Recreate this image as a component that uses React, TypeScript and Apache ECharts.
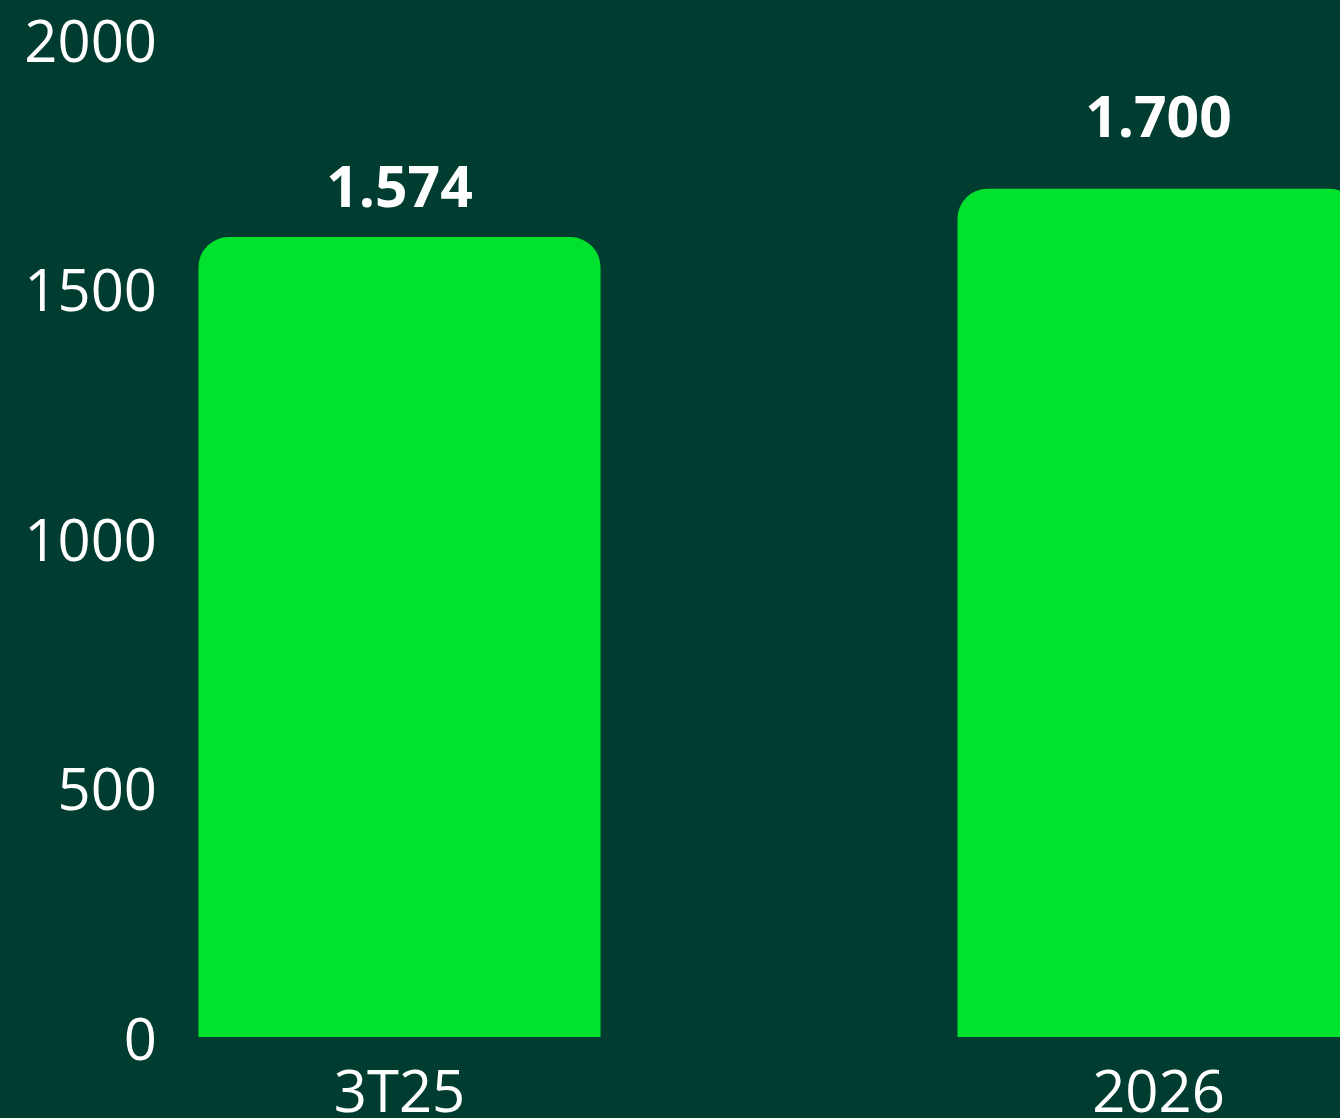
import React, { useEffect, useRef } from "react";
import * as echarts from "echarts";

const categories = ["3T25", "2026"];
const barValues = [1603, 1700];
const valueLabels = ["1.574", "1.700"];
const yMin = 0;
const yMax = 2000;
const yInterval = 500;

const BG = "#003C2F";
const BAR = "#00E22D";
const FONT = "'Open Sans', 'Noto Sans', sans-serif";
const labelDistances = [24, 45];

export default function App() {
  const ref = useRef<HTMLDivElement>(null);
  useEffect(() => {
    document.body.style.margin = "0";
    document.body.style.overflow = "hidden";
    const chart = echarts.init(ref.current!, undefined, { renderer: "svg" });
    chart.setOption({
      animation: false,
      backgroundColor: BG,
      grid: { left: 20, right: 2, top: 39, bottom: 80, containLabel: false },
      xAxis: {
        type: "category",
        data: categories,
        axisLine: { show: false },
        axisTick: { show: false },
        axisLabel: {
          color: "#ffffff",
          fontFamily: FONT,
          fontSize: 58,
          margin: 23,
        },
      },
      yAxis: {
        type: "value",
        min: yMin,
        max: yMax,
        interval: yInterval,
        axisLine: { show: false },
        axisTick: { show: false },
        splitLine: { show: false },
        axisLabel: {
          color: "#ffffff",
          fontFamily: FONT,
          fontSize: 58,
          align: "right",
          margin: -137,
          formatter: (v: number) => String(v),
        },
      },
      series: [
        {
          type: "bar",
          barWidth: 402,
          data: barValues.map((v, i) => ({
            value: v,
            label: {
              show: true,
              position: "top",
              distance: labelDistances[i],
              formatter: valueLabels[i],
              color: "#ffffff",
              fontFamily: FONT,
              fontWeight: "bold",
              fontSize: 57,
            },
          })),
          itemStyle: { color: BAR, borderRadius: [30, 30, 0, 0] },
        },
      ],
    });
    return () => chart.dispose();
  }, []);
  return (
    <div
      style={{
        position: "fixed",
        left: 0,
        top: 0,
        width: 1340,
        height: 1118,
        overflow: "hidden",
        background: BG,
      }}
    >
      <div ref={ref} style={{ width: 1540, height: 1118 }} />
    </div>
  );
}
